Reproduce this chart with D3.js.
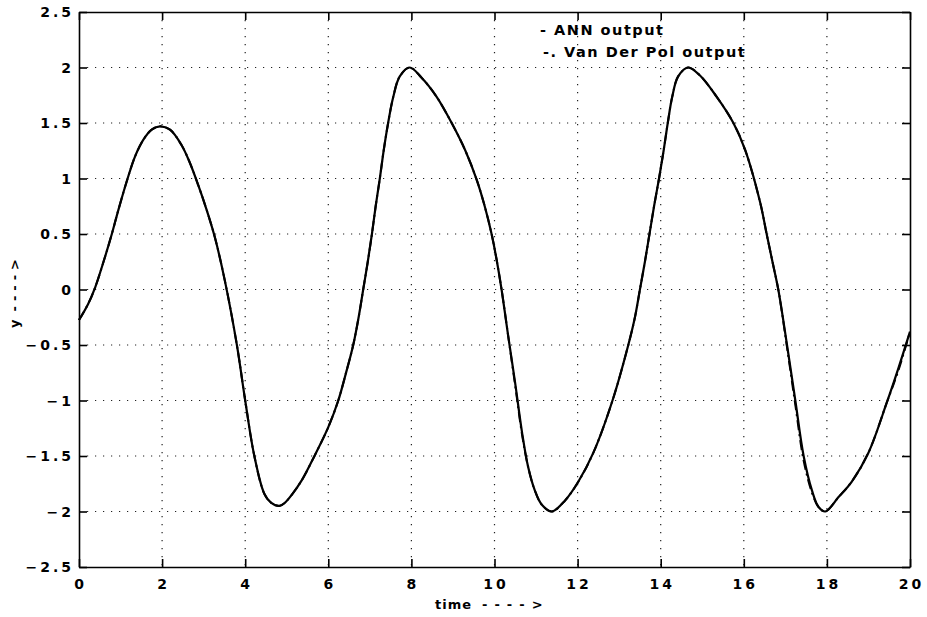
<!DOCTYPE html>
<html>
<head>
<meta charset="utf-8">
<script src="https://cdn.jsdelivr.net/npm/d3@7"></script>
<style>
  body { margin: 0; background: #fff; }
  text { font-family: 'DejaVu Sans', sans-serif; font-weight: bold; fill: #000; }
</style>
</head>
<body>
<div id="chart"></div>
<script>
// values
const time = [0, 0.22, 0.39, 0.59, 0.79, 0.95, 1.17, 1.35, 1.55, 1.75, 1.95, 2.19, 2.47, 2.67, 2.87,
  3.07, 3.27, 3.51, 3.8, 4.0, 4.22, 4.46, 4.62, 4.82, 4.96, 5.12, 5.36, 5.68, 6.0, 6.24,
  6.42, 6.6, 6.73, 6.84, 6.95, 7.05, 7.14, 7.24, 7.34, 7.44, 7.56, 7.72, 7.96, 8.24, 8.6,
  8.97, 9.3, 9.57, 9.75, 9.93, 10.05, 10.17, 10.33, 10.5, 10.66, 10.81, 10.97, 11.14, 11.38, 11.7,
  12.02, 12.38, 12.84, 13.22, 13.38, 13.5, 13.62, 13.73, 13.84, 13.96, 14.07, 14.17, 14.28, 14.42, 14.66,
  14.94, 15.34, 15.75, 16.03, 16.39, 16.55, 16.69, 16.83, 17.04, 17.24, 17.44, 17.64, 17.8, 17.96, 18.28,
  18.6, 19.0, 19.44, 19.72, 20.0];

const annOutput = [-0.275, -0.13, 0.02, 0.25, 0.5, 0.72, 1.0, 1.2, 1.35, 1.44, 1.47, 1.44, 1.3, 1.14, 0.94,
  0.72, 0.47, 0.08, -0.5, -1.0, -1.5, -1.84, -1.92, -1.95, -1.92, -1.85, -1.72, -1.49, -1.24, -1.0,
  -0.76, -0.5, -0.25, 0.0, 0.25, 0.5, 0.75, 1.0, 1.27, 1.5, 1.73, 1.92, 2.0, 1.91, 1.74,
  1.5, 1.25, 0.99, 0.77, 0.5, 0.27, 0.0, -0.42, -0.85, -1.28, -1.6, -1.81, -1.94, -2.0, -1.9,
  -1.73, -1.47, -1.0, -0.5, -0.25, 0.0, 0.25, 0.5, 0.75, 1.0, 1.25, 1.5, 1.74, 1.92, 2.0,
  1.93, 1.74, 1.5, 1.26, 0.79, 0.5, 0.25, 0.0, -0.5, -1.0, -1.5, -1.81, -1.96, -2.0, -1.87,
  -1.73, -1.47, -1.02, -0.71, -0.38];

const vdpOutput = [-0.275, -0.13, 0.02, 0.25, 0.5, 0.72, 1.0, 1.2, 1.35, 1.44, 1.47, 1.44, 1.3, 1.14, 0.94,
  0.72, 0.47, 0.08, -0.5, -1.0, -1.5, -1.84, -1.92, -1.95, -1.92, -1.85, -1.72, -1.49, -1.24, -1.0,
  -0.76, -0.5, -0.25, 0.0, 0.25, 0.5, 0.75, 1.0, 1.27, 1.5, 1.73, 1.92, 2.0, 1.91, 1.74,
  1.5, 1.25, 0.99, 0.77, 0.5, 0.27, 0.0, -0.42, -0.87, -1.3, -1.6, -1.81, -1.94, -2.0, -1.9,
  -1.73, -1.47, -1.0, -0.5, -0.25, 0.0, 0.25, 0.5, 0.75, 1.0, 1.25, 1.5, 1.74, 1.92, 2.0,
  1.93, 1.74, 1.5, 1.26, 0.79, 0.5, 0.25, 0.0, -0.52, -1.04, -1.54, -1.83, -1.96, -2.0, -1.87,
  -1.73, -1.47, -1.02, -0.73, -0.38];

const xTicks = [0, 2, 4, 6, 8, 10, 12, 14, 16, 18, 20];
const yTicks = [-2.5, -2, -1.5, -1, -0.5, 0, 0.5, 1, 1.5, 2, 2.5];
const legendLabels = ['- ANN output', '-. Van Der Pol output'];

const width = 927;
const height = 617;
const margin = { left: 79, right: 17, top: 12, bottom: 50 };

const svg = d3.select('#chart').append('svg').attr('width', width).attr('height', height);

const x = d3.scaleLinear().domain([0, 20]).range([margin.left, width - margin.right]);
const y = d3.scaleLinear().domain([-2.5, 2.5]).range([height - margin.bottom, margin.top]);

const fmt = v => String(v).replace('-', '\u2212');

// dotted grid
const grid = svg.append('g')
  .attr('stroke', '#222')
  .attr('stroke-width', 1.2)
  .attr('stroke-dasharray', '1.2,6.8');
grid.selectAll('.gx').data(xTicks.slice(1, -1)).enter().append('line')
  .attr('x1', d => x(d)).attr('x2', d => x(d))
  .attr('y1', y(2.5)).attr('y2', y(-2.5));
grid.selectAll('.gy').data(yTicks.slice(1, -1)).enter().append('line')
  .attr('y1', d => y(d)).attr('y2', d => y(d))
  .attr('x1', x(0)).attr('x2', x(20));

// axes with inward ticks
const tickLen = 8;
svg.append('g').attr('transform', `translate(0,${y(-2.5)})`)
  .call(d3.axisBottom(x).tickValues(xTicks).tickSizeInner(-tickLen).tickSizeOuter(0).tickFormat(''));
svg.append('g').attr('transform', `translate(0,${y(2.5)})`)
  .call(d3.axisTop(x).tickValues(xTicks).tickSizeInner(-tickLen).tickSizeOuter(0).tickFormat(''));
svg.append('g').attr('transform', `translate(${x(0)},0)`)
  .call(d3.axisLeft(y).tickValues(yTicks).tickSizeInner(-tickLen).tickSizeOuter(0).tickFormat(''));
svg.append('g').attr('transform', `translate(${x(20)},0)`)
  .call(d3.axisRight(y).tickValues(yTicks).tickSizeInner(-tickLen).tickSizeOuter(0).tickFormat(''));
svg.selectAll('.domain').attr('stroke', '#000').attr('stroke-width', 1.6);
svg.selectAll('.tick line').attr('stroke', '#000').attr('stroke-width', 1.6);

// tick labels
svg.selectAll('.xlab').data(xTicks).enter().append('text')
  .attr('x', d => x(d) + 1.5)
  .attr('y', 589)
  .attr('text-anchor', 'middle')
  .attr('font-size', 14)
  .attr('letter-spacing', 3)
  .text(d => fmt(d));

svg.selectAll('.ylab').data(yTicks).enter().append('text')
  .attr('x', 74)
  .attr('y', d => y(d) + 5)
  .attr('text-anchor', 'end')
  .attr('font-size', 14)
  .attr('letter-spacing', 3)
  .text(d => fmt(d));

// axis titles
const xTitle = svg.append('text').attr('x', 435).attr('y', 609).attr('font-size', 13).attr('letter-spacing', 1);
xTitle.append('tspan').text('time');
xTitle.append('tspan').attr('dx', 10).attr('letter-spacing', 7).text('---->');

const yTitle = svg.append('text')
  .attr('transform', 'translate(19,328) rotate(-90)')
  .attr('font-size', 13);
yTitle.append('tspan').text('y');
yTitle.append('tspan').attr('dx', 8).attr('letter-spacing', 5).text('---->');

// curves
const line = d3.line().curve(d3.curveCatmullRom.alpha(0.5))
  .x((d, i) => x(time[i]))
  .y(d => y(d));

svg.append('path').datum(annOutput)
  .attr('d', line)
  .attr('fill', 'none')
  .attr('stroke', '#000')
  .attr('stroke-width', 2.2);

svg.append('path').datum(vdpOutput)
  .attr('d', line)
  .attr('fill', 'none')
  .attr('stroke', '#000')
  .attr('stroke-width', 2)
  .attr('stroke-dasharray', '10,4,2,4');

// legend (text only, as in the original)
svg.selectAll('.legend').data(legendLabels).enter().append('text')
  .attr('x', (d, i) => i === 0 ? 540 : 543)
  .attr('y', (d, i) => 35 + i * 22)
  .attr('font-size', 14.5)
  .attr('letter-spacing', 1.5)
  .text(d => d);
</script>
</body>
</html>
